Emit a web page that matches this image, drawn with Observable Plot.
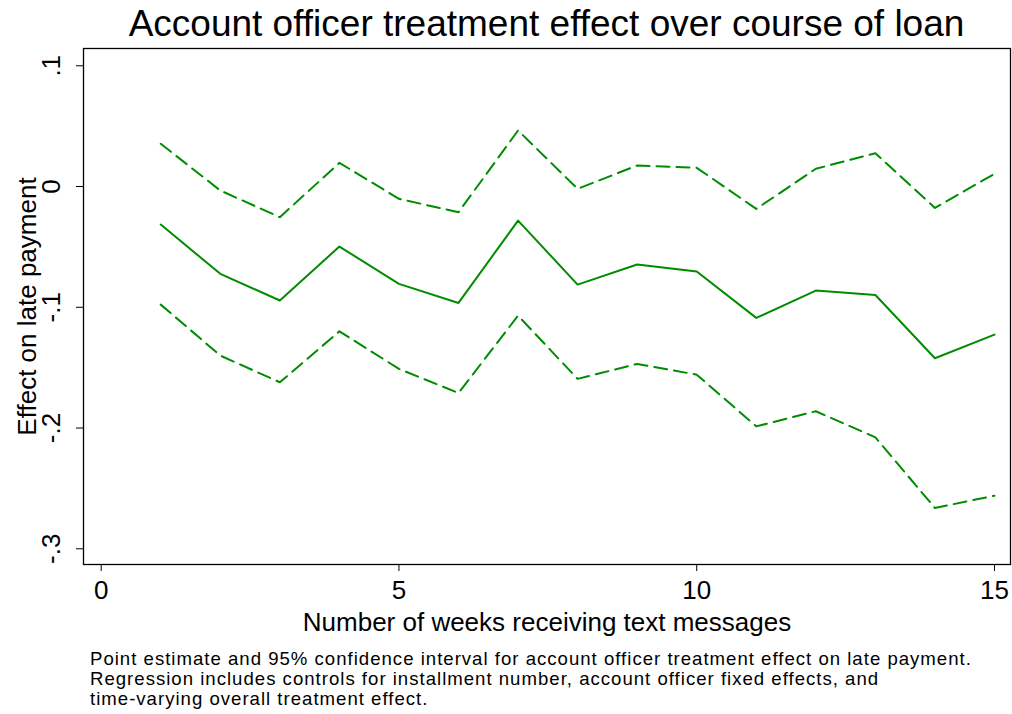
<!DOCTYPE html>
<html><head><meta charset="utf-8">
<script src="https://cdn.jsdelivr.net/npm/d3@7"></script>
<script src="https://cdn.jsdelivr.net/npm/@observablehq/plot@0.6"></script>
<style>
body{margin:0;background:#fff;font-family:"Liberation Sans",Arial,Helvetica,sans-serif;color:#000;width:1012px;height:714px;position:relative;overflow:hidden;}
#title{position:absolute;left:83px;top:1px;width:927px;height:46px;line-height:46px;text-align:center;font-size:37px;white-space:nowrap;}
#chart{position:absolute;left:0;top:46px;}
#caption{position:absolute;left:90px;top:649px;font-size:18.6px;line-height:20px;letter-spacing:1px;white-space:nowrap;}
</style></head><body>
<div id="title">Account officer treatment effect over course of loan</div>
<div id="chart"></div>
<div id="caption">Point estimate and 95% confidence interval for account officer treatment effect on late payment.<br>Regression includes controls for installment number, account officer fixed effects, and<br>time-varying overall treatment effect.</div>
<script>
const weeks = [1,2,3,4,5,6,7,8,9,10,11,12,13,14,15];
const estimate = [-0.0315,-0.0723,-0.0944,-0.0497,-0.0806,-0.0964,-0.0282,-0.0812,-0.0646,-0.0704,-0.1088,-0.0862,-0.0898,-0.1422,-0.1226];
const upperCI = [0.0354,-0.0033,-0.0254,0.0196,-0.0102,-0.0213,0.0464,-0.0019,0.0174,0.0155,-0.0185,0.0147,0.0276,-0.0177,0.0105];
const lowerCI = [-0.0978,-0.1400,-0.1621,-0.1199,-0.1510,-0.1710,-0.1069,-0.1593,-0.1469,-0.1558,-0.1986,-0.1861,-0.2077,-0.2662,-0.2560];
const xTicks = [0,5,10,15];
const yTicks = [0.1,0,-0.1,-0.2,-0.3];
const yTickLabels = [".1","0","-.1","-.2","-.3"];
const xLabel = "Number of weeks receiving text messages";
const yLabel = "Effect on late payment";

const rows = weeks.map((w,i)=>({week:w, est:estimate[i], hi:upperCI[i], lo:lowerCI[i]}));
const green = "#008c00";
const chart = Plot.plot({
  width:1012, height:594,
  marginTop:2, marginLeft:83, marginRight:2, marginBottom:76,
  style:{fontFamily:'"Liberation Sans",Arial,Helvetica,sans-serif', background:"#fff", color:"#000", overflow:"visible"},
  x:{domain:[-0.297,15.269]},
  y:{domain:[-0.313,0.1143]},
  marks:[
    Plot.axisX(xTicks,{tickSize:7, tickPadding:9, fontSize:26, label:null, stroke:"#000"}),
    Plot.axisY(yTicks,{tickSize:7, tickPadding:17, tickRotate:-90, fontSize:26, label:null, stroke:"#000",
      tickFormat:d=>yTickLabels[yTicks.indexOf(d)]}),
    Plot.line(rows,{x:"week", y:"hi", stroke:green, strokeWidth:2, strokeDasharray:"13,7"}),
    Plot.line(rows,{x:"week", y:"lo", stroke:green, strokeWidth:2, strokeDasharray:"13,7"}),
    Plot.line(rows,{x:"week", y:"est", stroke:green, strokeWidth:2}),
    Plot.frame({stroke:"#000", strokeWidth:1.3}),
    Plot.text([xLabel],{frameAnchor:"bottom", dy:58, fontSize:26, lineAnchor:"middle"}),
    Plot.text([yLabel],{frameAnchor:"left", dx:-56, rotate:-90, fontSize:26, textAnchor:"middle", lineAnchor:"middle"})
  ]
});
document.getElementById("chart").appendChild(chart);
</script>
</body></html>
